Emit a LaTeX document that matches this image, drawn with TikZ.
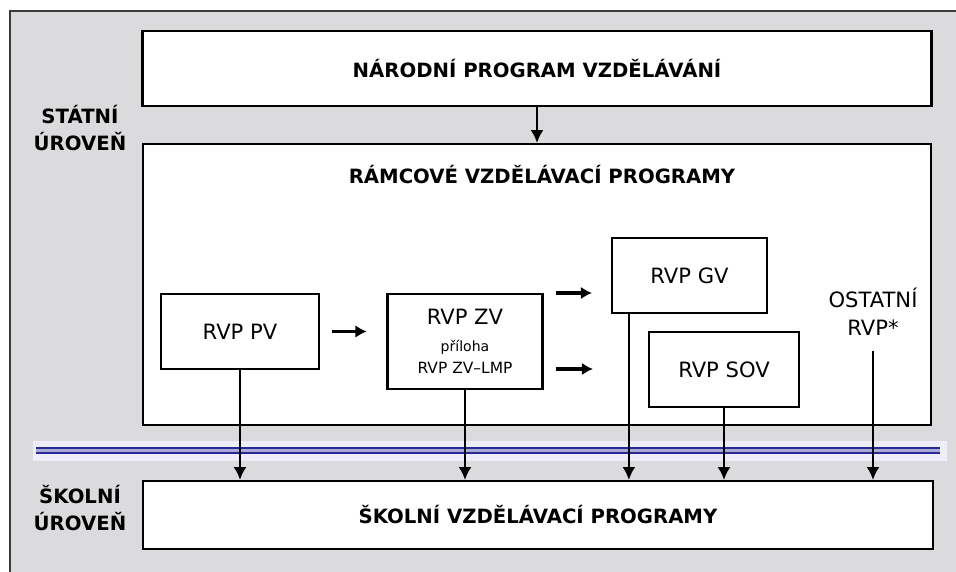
\documentclass[tikz,border=0pt]{standalone}
\usepackage{fontspec}
\setmainfont{DejaVu Sans}
\usetikzlibrary{arrows.meta,calc}

\definecolor{panelgray}{RGB}{219,219,221}
\definecolor{framegray}{RGB}{60,60,60}
\definecolor{levelblue}{RGB}{40,40,150}
\definecolor{bandblue}{RGB}{238,238,250}

\tikzset{
	box/.style={draw=black, fill=white, line width=1.6pt, inner sep=0pt},
	title/.style={font=\bfseries\fontsize{14}{17}\selectfont},
	level/.style={font=\bfseries\fontsize{14}{19}\selectfont, align=center},
	rvp/.style={font=\fontsize{15}{18}\selectfont, align=center},
	varrow/.style={line width=1.3pt, -{Latex[length=9pt,width=9pt]}},
	harrow/.style={line width=2.4pt, -{Latex[length=8pt,width=9pt]}, shorten <=8.5pt},
}

\begin{document}
\begin{tikzpicture}[x=0.025cm, y=-0.025cm]
	\useasboundingbox (0,0) rectangle (956,572);
	% panel
	\fill[panelgray] (10,11) rectangle (956,572);
	\draw[framegray, line width=1.6pt] (10,572) -- (10,11) -- (956,11);

	% state level
	\node[level] (statni) at (80,128) {STÁTNÍ\\ÚROVEŇ};
	\node[box, title, minimum width=789*0.025cm, minimum height=75*0.025cm] (npv) at (537,68.5) {NÁRODNÍ PROGRAM VZDĚLÁVÁNÍ};
	\node[box, minimum width=788*0.025cm, minimum height=281*0.025cm] (rvp) at (537,284.5) {};
	\node[title] (rvptitle) at (542,175) {RÁMCOVÉ VZDĚLÁVACÍ PROGRAMY};
	\draw[varrow] (npv.south) -- (npv.south |- rvp.north);

	% framework programmes
	\node[box, rvp, minimum width=158*0.025cm, minimum height=75*0.025cm] (pv) at (240,331.5) {RVP PV};
	\node[box, rvp, minimum width=155*0.025cm, minimum height=95*0.025cm] (zv) at (465,341.5)
		{RVP ZV\\[1pt]{\fontsize{10}{12}\selectfont příloha}\\[-2pt]{\fontsize{11}{13}\selectfont RVP ZV--LMP}};
	\node[box, rvp, minimum width=155*0.025cm, minimum height=75*0.025cm] (gv) at (689.5,275.5) {RVP GV};
	\node[box, rvp, minimum width=150*0.025cm, minimum height=75*0.025cm] (sov) at (724,369.5) {RVP SOV};
	\node[rvp, font=\fontsize{15}{20}\selectfont] (ost) at (873,312) {OSTATNÍ\\RVP*};

	% horizontal arrows
	\coordinate (togv) at (592,293);
	\coordinate (tosov) at (593,369);
	\draw[harrow, shorten >=14pt] (pv.east) -- (pv.east -| zv.west);
	\draw[harrow] (zv.east |- togv) -- (togv);
	\draw[harrow] (zv.east |- tosov) -- (tosov);

	% border between levels
	\fill[bandblue] (33,441) rectangle (947,461);
	\draw[levelblue, line width=1.8pt, double=levelblue!40!white, double distance=2pt] (36,450.5) -- (940,450.5);

	% school level
	\node[level] (skolni) at (80,508) {ŠKOLNÍ\\ÚROVEŇ};
	\node[box, title, minimum width=790*0.025cm, minimum height=68*0.025cm] (svp) at (538,515) {ŠKOLNÍ VZDĚLÁVACÍ PROGRAMY};

	% down to school programmes
	\coordinate (gvout) at ($(gv.south west)+(18,0)$);
	\draw[varrow] (pv.south) -- (pv.south |- svp.north);
	\draw[varrow] (zv.south) -- (zv.south |- svp.north);
	\draw[varrow] (gvout) -- (gvout |- svp.north);
	\draw[varrow] (sov.south) -- (sov.south |- svp.north);
	\draw[varrow, shorten <=7pt] (ost.south) -- (ost.south |- svp.north);
\end{tikzpicture}
\end{document}
